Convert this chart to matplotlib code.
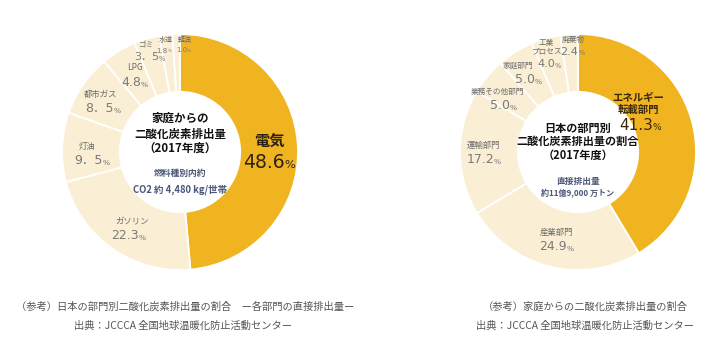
import numpy as np
import matplotlib
matplotlib.use('Agg')
import matplotlib.pyplot as plt

plt.rcParams['font.family'] = ['Noto Sans CJK JP', 'DejaVu Sans']

# household CO2 by fuel (left donut)
home_names = ['電気', 'ガソリン', '灯油', '都市ガス', 'LPG', 'ゴミ', '水道', '軽油']
home_pct = [48.6, 22.3, 9.5, 8.5, 4.8, 3.5, 1.8, 1.0]
home_pct_text = ['48.6', '22.3', '9．5', '8．5', '4.8', '3．5', '1.8', '1.0']
home_title = ['家庭からの', '二酸化炭素排出量', '（2017年度）']

# Japan CO2 by sector (right donut)
sector_names = ['エネルギー\n転載部門', '産業部門', '運輸部門', '業務その他部門',
                '家庭部門', '工業\nプロセス', '廃棄物']
sector_pct = [41.3, 24.9, 17.2, 5.0, 5.0, 4.0, 2.4]
sector_pct_text = ['41.3', '24.9', '17.2', '5.0', '5.0', '4.0', '2.4']
sector_title = ['日本の部門別', '二酸化炭素排出量の割合', '（2017年度）']

ORANGE = '#F1B421'
CREAM = '#FAEFD4'
GREY = '#6b6b6b'
NAVY = '#4a5776'
INNER = 0.51
NUMFONT = ['DejaVu Sans', 'Noto Sans CJK JP']


def label_pos(values, i, r, dang=0.0):
    total = sum(values)
    start = sum(values[:i]) / total
    mid = start + values[i] / total / 2
    ang = np.deg2rad(90 - mid * 360 + dang)
    return r * np.cos(ang), r * np.sin(ang)


def pct_label(ax, x, y, num, size, color):
    t = ax.text(x, y, num, ha='center', va='top', fontsize=size, color=color,
                family=NUMFONT)
    ax.annotate('%', xy=(1, 0.08), xycoords=t, ha='left', va='bottom',
                fontsize=size * 0.6, color=color, family=NUMFONT)
    return t


def donut(ax, values):
    colors = [ORANGE] + [CREAM] * (len(values) - 1)
    ax.pie(values, colors=colors, startangle=90, counterclock=False, radius=1.0,
           wedgeprops=dict(width=1 - INNER, edgecolor='white', linewidth=1.3))
    ax.set_xlim(-1, 1)
    ax.set_ylim(-1, 1)
    ax.set_aspect('equal')
    ax.axis('off')


def title_lines(ax, lines, ys, size):
    for line, y in zip(lines, ys):
        ax.text(0, y, line, ha='center', va='center', fontsize=size,
                fontweight='bold', color='#111111')


fig = plt.figure(figsize=(7.2, 3.42), dpi=100)
W, H = 720, 342
R = 118
axl = fig.add_axes([(180 - R) / W, (H - 152 - R) / H, 2 * R / W, 2 * R / H])
axr = fig.add_axes([(578 - R) / W, (H - 152 - R) / H, 2 * R / W, 2 * R / H])

# ---- left donut ----
donut(axl, home_pct)
# (radius, angle tweak, name size, pct size, pct x shift)
left_layout = [(0.76, -3, 11, 13.5, -0.05), (0.76, 3, 6, 9, -0.03), (0.79, 3, 6, 9, 0.04),
               (0.80, 2, 6, 9, 0.02), (0.76, -1, 6, 9, 0.0), (0.90, 2, 5.5, 8, 0.03),
               (0.90, 1, 5, 5, 0.0), (0.90, -4.5, 5, 5, 0.0)]
for i, (name, num) in enumerate(zip(home_names, home_pct_text)):
    r, da, ns, ps, dx = left_layout[i]
    x, y = label_pos(home_pct, i, r, da)
    if i == 0:
        axl.text(x, y + 0.03, name, ha='center', va='bottom', fontsize=ns,
                 fontweight='bold', color='#2b2212')
        pct_label(axl, x + dx, y, num, ps, '#2b2212')
    else:
        axl.text(x, y + 0.02, name, ha='center', va='bottom', fontsize=ns, color=GREY)
        pct_label(axl, x - 0.03 + dx, y - 0.01, num, ps, '#7a7a7a')

title_lines(axl, home_title, [0.288, 0.153, 0.03], 8.3)
axl.text(0, -0.18, '燃料種別内約', ha='center', va='center', fontsize=6.3,
         fontweight='bold', color=NAVY)
axl.text(0, -0.32, 'CO2 約 4,480 kg/世帯', ha='center', va='center', fontsize=6.8,
         fontweight='bold', color=NAVY)

# ---- right donut ----
donut(axr, sector_pct)
right_layout = [(0.59, 14.5, 7.5, 11, -0.02), (0.76, 0, 6, 9, 0.0), (0.80, 0, 6, 9, 0.0),
                (0.82, 6, 5.5, 9, 0.05), (0.85, 5, 5.5, 9, 0.09), (0.84, 3, 5.5, 8, 0.03),
                (0.90, -1.5, 5.5, 8, 0.0)]
for i, (name, num) in enumerate(zip(sector_names, sector_pct_text)):
    r, da, ns, ps, dx = right_layout[i]
    x, y = label_pos(sector_pct, i, r, da)
    if i == 0:
        axr.text(x, y + 0.02, name, ha='center', va='bottom', fontsize=ns,
                 fontweight='bold', color='#3a2a0a', linespacing=1.3)
        pct_label(axr, x + dx, y - 0.01, num, ps, '#3a2a0a')
    else:
        axr.text(x, y + 0.02, name, ha='center', va='bottom', fontsize=ns,
                 color=GREY, linespacing=1.1)
        pct_label(axr, x - 0.03 + dx, y - 0.01, num, ps, '#7a7a7a')

title_lines(axr, sector_title, [0.203, 0.093, -0.025], 8)
axr.text(0, -0.25, '直接排出量', ha='center', va='center', fontsize=6.3,
         fontweight='bold', color=NAVY)
axr.text(0, -0.35, '約11億9,000 万トン', ha='center', va='center', fontsize=5.8,
         fontweight='bold', color=NAVY)

# ---- captions ----
cap = dict(ha='center', va='center', fontsize=7.4, color='#555555')
fig.text(185 / W, 1 - 307 / H, '（参考）日本の部門別二酸化炭素排出量の割合　ー各部門の直接排出量ー', **cap)
fig.text(183 / W, 1 - 326 / H, '出典：JCCCA 全国地球温暖化防止活動センター', **cap)
fig.text(585 / W, 1 - 307 / H, '（参考）家庭からの二酸化炭素排出量の割合', **cap)
fig.text(585 / W, 1 - 326 / H, '出典：JCCCA 全国地球温暖化防止活動センター', **cap)

fig.savefig('out.png', dpi=100, facecolor='white')
